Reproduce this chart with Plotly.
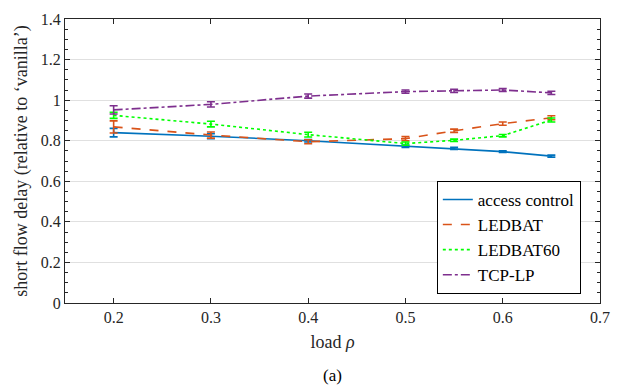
import plotly.graph_objects as go

load = [0.2, 0.3, 0.4, 0.5, 0.55, 0.6, 0.65]

access_control = [0.84, 0.822, 0.80, 0.773, 0.762, 0.746, 0.724]
access_err = [0.021, 0.012, 0.006, 0.006, 0.005, 0.004, 0.005]

ledbat = [0.868, 0.828, 0.795, 0.81, 0.849, 0.884, 0.913]
ledbat_err = [0.03, 0.015, 0.01, 0.01, 0.008, 0.008, 0.01]

ledbat60 = [0.925, 0.882, 0.83, 0.786, 0.802, 0.825, 0.902]
ledbat60_err = [0.015, 0.014, 0.012, 0.008, 0.006, 0.006, 0.01]

tcplp = [0.952, 0.979, 1.02, 1.042, 1.046, 1.05, 1.036]
tcplp_err = [0.02, 0.013, 0.01, 0.008, 0.008, 0.007, 0.008]

names = ["access control", "LEDBAT", "LEDBAT60", "TCP-LP"]
colors = ["#0072BD", "#D95319", "#00FF00", "#7E2F8E"]
dashes = ["solid", "dash", "dot", "dashdot"]
series = [(access_control, access_err), (ledbat, ledbat_err),
          (ledbat60, ledbat60_err), (tcplp, tcplp_err)]

FONT = "Liberation Serif, Times New Roman, DejaVu Serif, serif"
fig = go.Figure()
for name, col, dsh, (vals, errs) in zip(names, colors, dashes, series):
    fig.add_trace(go.Scatter(
        x=load, y=vals, name=name, mode="lines",
        line=dict(color=col, width=1.6, dash=dsh),
        error_y=dict(type="data", array=errs, visible=True, color=col,
                     thickness=1.6, width=4),
    ))

axis_common = dict(showline=True, linecolor="#262626", linewidth=1, mirror="ticks",
                   ticks="inside", ticklen=5, tickcolor="#262626",
                   tickfont=dict(family=FONT, size=16, color="#262626"),
                   zeroline=False, automargin=False)

fig.update_layout(
    width=612, height=381,
    margin=dict(l=57, r=20, t=11, b=86),
    paper_bgcolor="white", plot_bgcolor="white",
    font=dict(family=FONT, color="#262626"),
    showlegend=True,
    legend=dict(x=0.695, y=0.032, xanchor="left", yanchor="bottom",
                bgcolor="white", bordercolor="#000000", borderwidth=1,
                font=dict(family=FONT, size=17, color="#000000"),
                itemwidth=30, tracegroupgap=0),
    xaxis=dict(range=[0.15, 0.7], tickvals=[0.2, 0.3, 0.4, 0.5, 0.6, 0.7],
               ticktext=["0.2", "0.3", "0.4", "0.5", "0.6", "0.7"],
               showgrid=False,
               title=dict(text="load <i>ρ</i>", font=dict(family=FONT, size=18, color="#262626"),
                          standoff=10),
               **axis_common),
    yaxis=dict(range=[0, 1.4], tickvals=[0, 0.2, 0.4, 0.6, 0.8, 1, 1.2, 1.4],
               ticktext=["0", "0.2", "0.4", "0.6", "0.8", "1", "1.2", "1.4"],
               showgrid=True, gridcolor="#e0e0e0", gridwidth=1,
               minor=dict(dtick=0.05, ticks="inside", ticklen=3, tickcolor="#262626",
                          showgrid=False),
               title=dict(text="short flow delay (relative to ‘vanilla’)",
                          font=dict(family=FONT, size=18, color="#262626"), standoff=8),
               **axis_common),
    annotations=[dict(text="(a)", x=0.5, y=-0.215, xref="paper", yref="paper",
                      xanchor="center", yanchor="top", showarrow=False,
                      font=dict(family=FONT, size=17, color="#000000"))],
)

fig.write_html("out.html")
